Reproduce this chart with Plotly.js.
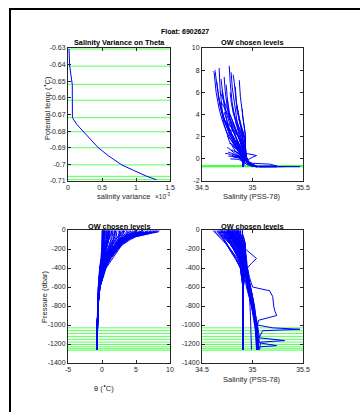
<!DOCTYPE html>
<html>
<head>
<meta charset="utf-8">
<script src="https://cdn.plot.ly/plotly-3.0.1.min.js"></script>
<style>
html,body{margin:0;padding:0;background:#fff;}
#chart{width:360px;height:412px;}
</style>
</head>
<body>
<div id="chart"></div>
<script>
// ---------------- DATA ----------------
const floatId = "6902627";

// chosen theta levels (green lines, top panels)
const thetaLevels = [-0.6306, -0.6409, -0.6519, -0.6614, -0.6719, -0.6804, -0.6900, -0.7003, -0.7072, -0.7092];
// chosen pressure levels (green lines, bottom panels)
const pressureChosen = [-1030, -1060, -1090, -1120, -1150, -1180, -1205, -1230, -1250, -1265];

// salinity variance on theta (x in units of 1e-3)
const varianceTheta = [-0.6306, -0.6409, -0.6519, -0.6614, -0.6719, -0.676, -0.6804, -0.685, -0.690, -0.695, -0.7003, -0.7035, -0.7072, -0.7092];
const varianceE3   = [0.015, 0.025, 0.063, 0.065, 0.065, 0.13, 0.225, 0.33, 0.446, 0.60, 0.79, 0.96, 1.16, 1.30];

// standard profile pressure levels (dbar, negative down)
const pressureLevels = [-5, -20, -40, -70, -100, -150, -200, -300, -400, -600, -800, -1000, -1150, -1260];

const thetaProfiles = [
 [8.4, 8.3, 6.8, 4.9, 3.9, 3.0, 2.4, 1.3, 0.5, -0.3, -0.58, -0.67, -0.7, -0.71],
 [8.2, 8.1, 6.2, 4.4, 3.5, 2.7, 2.1, 1.1, 0.4, -0.32, -0.6, -0.68, -0.7, -0.71],
 [7.9, 7.8, 6.0, 4.5, 3.5, 2.5, 1.8, 0.8, 0.2, -0.38, -0.6, -0.68, -0.7, -0.71],
 [7.6, 7.5, 6.9, 5.0, 4.2, 3.1, 2.3, 1.2, 0.4, -0.3, -0.58, -0.68, -0.7, -0.71],
 [7.1, 7.0, 5.6, 4.3, 3.4, 2.6, 2.0, 1.0, 0.3, -0.35, -0.6, -0.68, -0.71, -0.72],
 [6.9, 6.7, 5.3, 3.9, 3.1, 2.2, 1.6, 0.7, 0.1, -0.4, -0.61, -0.69, -0.71, -0.72],
 [6.2, 6.0, 4.8, 3.6, 2.8, 2.0, 1.4, 0.6, 0.05, -0.42, -0.62, -0.69, -0.71, -0.72],
 [5.5, 5.4, 4.6, 3.4, 2.7, 2.0, 1.5, 0.7, 0.1, -0.4, -0.62, -0.69, -0.71, -0.72],
 [4.8, 4.7, 4.2, 3.5, 3.0, 2.3, 1.7, 0.8, 0.2, -0.38, -0.61, -0.69, -0.71, -0.72],
 [4.2, 4.2, 3.9, 3.3, 2.8, 2.1, 1.5, 0.6, 0.0, -0.44, -0.62, -0.69, -0.71, -0.72],
 [3.6, 3.6, 3.4, 3.0, 2.6, 2.0, 1.4, 0.6, 0.0, -0.45, -0.63, -0.69, -0.71, -0.72],
 [3.0, 3.0, 2.9, 2.6, 2.3, 1.8, 1.3, 0.5, -0.05, -0.46, -0.63, -0.7, -0.71, -0.72],
 [2.5, 2.5, 2.5, 2.3, 2.1, 1.6, 1.2, 0.5, -0.05, -0.46, -0.63, -0.7, -0.71, -0.72],
 [2.0, 2.0, 2.0, 1.9, 1.7, 1.3, 0.9, 0.3, -0.15, -0.48, -0.64, -0.7, -0.71, -0.72],
 [1.6, 1.6, 1.6, 1.5, 1.4, 1.1, 0.8, 0.3, -0.1, -0.46, -0.63, -0.69, -0.71, -0.72],
 [1.2, 1.2, 1.2, 1.1, 1.0, 0.8, 0.6, 0.2, -0.15, -0.48, -0.64, -0.7, -0.71, -0.72],
 [0.9, 0.9, 0.9, 0.9, 0.8, 0.6, 0.4, 0.05, -0.25, -0.5, -0.65, -0.7, -0.71, -0.72],
 [0.6, 0.6, 0.6, 0.6, 0.55, 0.45, 0.3, 0.0, -0.25, -0.5, -0.65, -0.7, -0.71, -0.72],
 [0.4, 0.4, 0.4, 0.4, 0.35, 0.3, 0.2, 0.0, -0.25, -0.5, -0.64, -0.7, -0.71, -0.72],
 [0.2, 0.2, 0.2, 0.2, 0.2, 0.15, 0.1, -0.05, -0.3, -0.52, -0.65, -0.7, -0.71, -0.72],
 [0.1, 0.1, 0.1, 0.1, 0.1, 0.05, 0.0, -0.1, -0.3, -0.53, -0.65, -0.7, -0.71, -0.72],
 [0.5, 0.5, 0.5, 0.5, 0.45, 0.35, 0.25, 0.05, -0.2, -0.47, -0.63, -0.69, -0.71, -0.72],
 [0.3, 0.3, 0.3, 0.3, 0.25, 0.2, 0.15, -0.05, -0.3, -0.52, -0.65, -0.7, -0.71, -0.72],
 [2.2, 2.2, 2.2, 2.1, 1.9, 1.5, 1.1, 0.4, -0.1, -0.47, -0.64, -0.7, -0.71, -0.72],
 [6.5, 6.4, 5.2, 4.0, 3.3, 2.6, 2.0, 1.1, 0.35, -0.33, -0.6, -0.68, -0.71, -0.72],
 [7.4, 7.3, 6.1, 4.6, 3.7, 2.8, 2.1, 1.0, 0.3, -0.35, -0.6, -0.68, -0.71, -0.72],
 [8.0, 7.9, 6.5, 4.7, 3.8, 2.9, 2.2, 1.2, 0.4, -0.32, -0.6, -0.68, -0.7, -0.71],
 [7.2, 7.1, 6.3, 4.6, 3.9, 3.0, 2.5, 1.5, 0.6, -0.28, -0.58, -0.68, -0.7, -0.71],
 [6.0, 5.9, 5.1, 4.1, 3.5, 2.7, 2.1, 1.2, 0.5, -0.3, -0.59, -0.68, -0.7, -0.71],
 [5.2, 5.1, 4.5, 3.7, 3.1, 2.4, 1.8, 0.9, 0.2, -0.38, -0.61, -0.69, -0.71, -0.72],
 [7.8, 7.6, 6.4, 4.2, 3.2, 2.4, 1.8, 0.9, 0.25, -0.36, -0.6, -0.68, -0.7, -0.71],
 [3.4, 3.3, 3.1, 2.8, 2.5, 2.0, 1.5, 0.7, 0.1, -0.42, -0.62, -0.69, -0.71, -0.72],
 [2.8, 2.8, 2.7, 2.5, 2.4, 2.0, 1.6, 0.8, 0.2, -0.4, -0.62, -0.69, -0.71, -0.72],
 [1.8, 1.8, 1.8, 1.7, 1.6, 1.3, 1.0, 0.4, -0.1, -0.46, -0.63, -0.7, -0.71, -0.72],
 [4.5, 4.4, 4.0, 3.4, 2.9, 2.2, 1.6, 0.7, 0.1, -0.42, -0.62, -0.69, -0.71, -0.72],
 [1.0, 1.0, 1.0, 1.0, 0.9, 0.7, 0.5, 0.1, -0.2, -0.48, -0.64, -0.7, -0.71, -0.72],
 [0.7, 0.7, 0.7, 0.7, 0.65, 0.5, 0.35, 0.05, -0.2, -0.48, -0.64, -0.7, -0.71, -0.72],
 [0.0, 0.0, 0.0, 0.0, 0.0, 0.0, -0.05, -0.15, -0.35, -0.55, -0.66, -0.7, -0.71, -0.72],
 [3.8, 3.8, 3.6, 3.2, 2.9, 2.4, 2.0, 1.2, 0.4, -0.32, -0.6, -0.68, -0.7, -0.71],
 [2.6, 2.6, 2.6, 2.5, 2.4, 2.1, 1.7, 0.9, 0.2, -0.4, -0.62, -0.69, -0.71, -0.72],
 [1.4, 1.4, 1.4, 1.4, 1.3, 1.1, 0.9, 0.4, -0.05, -0.45, -0.63, -0.69, -0.71, -0.72],
 [0.8, 0.8, 0.8, 0.8, 0.75, 0.6, 0.45, 0.1, -0.2, -0.48, -0.64, -0.7, -0.71, -0.72],
 [0.25, 0.25, 0.25, 0.25, 0.25, 0.2, 0.15, 0.0, -0.25, -0.5, -0.64, -0.7, -0.71, -0.72],
 [0.15, 0.15, 0.15, 0.15, 0.15, 0.1, 0.05, -0.05, -0.3, -0.52, -0.65, -0.7, -0.71, -0.72],
 [5.8, 5.7, 4.9, 3.8, 3.2, 2.5, 1.9, 1.0, 0.3, -0.35, -0.6, -0.68, -0.71, -0.72],
 [6.7, 6.6, 5.5, 4.2, 3.5, 2.7, 2.0, 1.0, 0.3, -0.35, -0.6, -0.68, -0.71, -0.72],
 [3.2, 3.2, 3.1, 2.9, 2.7, 2.3, 1.9, 1.1, 0.35, -0.35, -0.6, -0.68, -0.71, -0.72],
 [1.9, 1.9, 1.9, 1.8, 1.7, 1.5, 1.2, 0.6, 0.05, -0.44, -0.62, -0.69, -0.71, -0.72],
 [0.35, 0.35, 0.35, 0.35, 0.3, 0.25, 0.2, 0.05, -0.2, -0.47, -0.63, -0.69, -0.71, -0.72],
 [4.0, 4.0, 3.7, 3.2, 2.8, 2.2, 1.7, 0.9, 0.25, -0.36, -0.61, -0.69, -0.71, -0.72],
 [1.1, 1.1, 1.1, 1.05, 1.0, 0.85, 0.65, 0.25, -0.1, -0.46, -0.63, -0.69, -0.71, -0.72],
 [5.0, 4.9, 4.4, 3.7, 3.3, 2.7, 2.2, 1.3, 0.5, -0.3, -0.59, -0.68, -0.7, -0.71]
];

const salinityProfiles = [
 [34.77, 34.77, 34.78, 34.80, 34.82, 34.84, 34.86, 34.89, 34.90, 34.905, 34.91, 34.91, 34.91, 34.91],
 [34.67, 34.67, 34.68, 34.70, 34.72, 34.75, 34.78, 34.84, 34.88, 34.905, 34.91, 34.91, 34.91, 34.91],
 [34.61, 34.62, 34.64, 34.67, 34.70, 34.74, 34.78, 34.85, 34.89, 34.907, 34.91, 34.91, 34.91, 34.91],
 [34.81, 34.81, 34.82, 34.84, 34.86, 34.88, 34.90, 34.92, 34.93, 34.96, 35.00, 35.03, 35.05, 35.05],
 [34.87, 34.87, 34.88, 34.90, 34.91, 34.92, 34.93, 34.93, 34.935, 34.96, 35.00, 35.03, 35.04, 35.04],
 [34.65, 34.65, 34.67, 34.70, 34.72, 34.75, 34.77, 34.83, 34.88, 34.905, 34.91, 34.91, 34.91, 34.91],
 [34.70, 34.70, 34.72, 34.74, 34.76, 34.79, 34.82, 34.87, 34.90, 34.91, 34.91, 34.91, 34.91, 34.91],
 [34.75, 34.75, 34.76, 34.78, 34.80, 34.83, 34.86, 34.90, 34.92, 34.95, 35.00, 35.03, 35.05, 35.05],
 [34.84, 34.84, 34.85, 34.87, 34.88, 34.90, 34.92, 34.93, 34.92, 34.91, 34.91, 34.91, 34.91, 34.91],
 [34.72, 34.72, 34.73, 34.75, 34.77, 34.80, 34.83, 34.88, 34.90, 34.91, 34.91, 34.91, 34.91, 34.91],
 [34.86, 34.86, 34.87, 34.88, 34.90, 34.92, 34.93, 34.93, 34.94, 34.97, 35.01, 35.04, 35.05, 35.05],
 [34.78, 34.78, 34.79, 34.80, 34.82, 34.84, 34.86, 34.89, 34.91, 34.91, 34.91, 34.91, 34.91, 34.91],
 [34.82, 34.82, 34.83, 34.84, 34.86, 34.88, 34.90, 34.92, 34.91, 34.91, 34.91, 34.91, 34.91, 34.91],
 [34.75, 34.75, 34.76, 34.77, 34.79, 34.82, 34.85, 34.89, 34.91, 34.91, 34.91, 34.91, 34.91, 34.91],
 [34.88, 34.88, 34.88, 34.89, 34.90, 34.91, 34.92, 34.94, 34.95, 34.98, 35.02, 35.04, 35.05, 35.05],
 [34.80, 34.80, 34.80, 34.81, 34.83, 34.85, 34.87, 34.90, 34.91, 34.91, 34.91, 34.91, 34.91, 34.91],
 [34.85, 34.85, 34.85, 34.86, 34.87, 34.88, 34.89, 34.90, 34.91, 34.91, 34.91, 34.91, 34.91, 34.91],
 [34.76, 34.76, 34.76, 34.77, 34.78, 34.81, 34.84, 34.89, 34.91, 34.91, 34.91, 34.91, 34.91, 34.91],
 [34.80, 34.80, 34.80, 34.81, 34.82, 34.85, 34.87, 34.90, 34.91, 34.94, 34.99, 35.02, 35.04, 35.04],
 [34.84, 34.84, 34.84, 34.85, 34.86, 34.88, 34.89, 34.90, 34.91, 34.91, 34.91, 34.91, 34.91, 34.91],
 [34.88, 34.88, 34.88, 34.88, 34.89, 34.90, 34.90, 34.91, 34.91, 34.91, 34.91, 34.91, 34.91, 34.91],
 [34.73, 34.73, 34.73, 34.74, 34.76, 34.79, 34.82, 34.87, 34.90, 34.91, 34.91, 34.91, 34.91, 34.91],
 [34.90, 34.90, 34.90, 34.90, 34.90, 34.91, 34.91, 34.92, 34.93, 34.96, 35.00, 35.03, 35.04, 35.04],
 [34.90, 34.90, 34.90, 34.91, 34.92, 34.93, 34.93, 34.94, 34.93, 34.91, 34.91, 34.91, 34.91, 34.91],
 [34.83, 34.83, 34.84, 34.86, 34.88, 34.90, 34.92, 34.93, 34.92, 34.91, 34.91, 34.91, 34.91, 34.91],
 [34.72, 34.72, 34.73, 34.75, 34.77, 34.80, 34.83, 34.87, 34.90, 34.91, 34.91, 34.91, 34.91, 34.91],
 [34.63, 34.63, 34.65, 34.68, 34.71, 34.74, 34.77, 34.83, 34.88, 34.905, 34.91, 34.91, 34.91, 34.91],
 [34.69, 34.69, 34.70, 34.73, 34.75, 34.78, 34.81, 34.86, 34.89, 34.91, 34.91, 34.91, 34.91, 34.91],
 [34.78, 34.78, 34.79, 34.81, 34.83, 34.86, 34.88, 34.91, 34.92, 34.95, 34.99, 35.03, 35.04, 35.04],
 [34.68, 34.68, 34.69, 34.72, 34.74, 34.78, 34.81, 34.86, 34.89, 34.91, 34.91, 34.91, 34.91, 34.91],
 [34.79, 34.79, 34.80, 34.83, 34.85, 34.87, 34.89, 34.91, 34.915, 34.91, 34.91, 34.91, 34.91, 34.91],
 [34.74, 34.74, 34.75, 34.76, 34.78, 34.81, 34.84, 34.88, 34.90, 34.91, 34.91, 34.91, 34.91, 34.91],
 [34.85, 34.85, 34.86, 34.87, 34.88, 34.90, 34.91, 34.93, 34.93, 34.96, 35.00, 35.03, 35.05, 35.05],
 [34.80, 34.80, 34.81, 34.82, 34.84, 34.86, 34.88, 34.90, 34.91, 34.91, 34.91, 34.91, 34.91, 34.91],
 [34.90, 34.90, 34.90, 34.91, 34.92, 34.93, 34.93, 34.93, 34.92, 34.91, 34.91, 34.91, 34.91, 34.91],
 [34.75, 34.75, 34.75, 34.76, 34.77, 34.80, 34.83, 34.88, 34.90, 34.91, 34.91, 34.91, 34.91, 34.91],
 [34.82, 34.82, 34.82, 34.83, 34.84, 34.86, 34.88, 34.90, 34.91, 34.91, 34.91, 34.91, 34.91, 34.91],
 [34.78, 34.78, 34.78, 34.79, 34.80, 34.83, 34.86, 34.89, 34.91, 34.91, 34.91, 34.91, 34.91, 34.91],
 [34.76, 34.76, 34.77, 34.79, 34.81, 34.84, 34.87, 34.90, 34.91, 34.91, 34.91, 34.91, 34.91, 34.91],
 [34.77, 34.77, 34.78, 34.80, 34.82, 34.85, 34.88, 34.91, 34.92, 34.91, 34.91, 34.91, 34.91, 34.91],
 [34.77, 34.77, 34.77, 34.78, 34.80, 34.83, 34.86, 34.89, 34.91, 34.91, 34.91, 34.91, 34.91, 34.91],
 [34.79, 34.79, 34.79, 34.80, 34.81, 34.84, 34.87, 34.90, 34.91, 34.91, 34.91, 34.91, 34.91, 34.91],
 [34.76, 34.76, 34.76, 34.77, 34.79, 34.83, 34.86, 34.89, 34.91, 34.91, 34.91, 34.91, 34.91, 34.91],
 [34.81, 34.81, 34.81, 34.82, 34.83, 34.86, 34.88, 34.90, 34.91, 34.91, 34.91, 34.91, 34.91, 34.91],
 [34.66, 34.66, 34.68, 34.71, 34.74, 34.78, 34.82, 34.87, 34.90, 34.91, 34.91, 34.91, 34.91, 34.91],
 [34.74, 34.74, 34.75, 34.77, 34.80, 34.83, 34.86, 34.90, 34.91, 34.91, 34.91, 34.91, 34.91, 34.91],
 [34.83, 34.83, 34.84, 34.86, 34.88, 34.90, 34.92, 34.93, 34.92, 34.91, 34.91, 34.91, 34.91, 34.91],
 [34.86, 34.86, 34.86, 34.87, 34.88, 34.89, 34.90, 34.92, 34.93, 34.95, 34.99, 35.03, 35.04, 35.04],
 [34.86, 34.86, 34.86, 34.87, 34.88, 34.89, 34.90, 34.91, 34.91, 34.91, 34.91, 34.91, 34.91, 34.91],
 [34.70, 34.70, 34.71, 34.73, 34.75, 34.79, 34.83, 34.88, 34.90, 34.91, 34.91, 34.91, 34.91, 34.91],
 [34.84, 34.84, 34.84, 34.85, 34.86, 34.88, 34.89, 34.90, 34.91, 34.91, 34.91, 34.91, 34.91, 34.91],
 [34.80, 34.80, 34.81, 34.83, 34.85, 34.87, 34.89, 34.91, 34.92, 34.91, 34.91, 34.91, 34.91, 34.91]
];

// profiles with their own pressure sampling (salinity excursions at depth)
const outlierPressure = [
 [-5, -50, -100, -200, -250, -300, -350, -400, -500, -600, -640, -700, -800, -850, -900, -950, -1000, -1100, -1260],
 [-5, -100, -300, -500, -700, -900, -1000, -1030, -1045, -1060, -1150, -1260],
 [-5, -100, -300, -500, -700, -900, -1000, -1135, -1164, -1180, -1260],
 [-5, -100, -300, -500, -700, -900, -1000, -1100, -1188, -1217, -1230, -1260],
 [-5, -100, -300, -500, -700, -900, -1000, -1100, -1260]
];
const outlierSalinity = [
 [34.85, 34.87, 34.90, 34.93, 34.99, 35.04, 34.99, 34.95, 34.97, 35.00, 35.17, 35.20, 35.21, 35.22, 35.24, 35.06, 35.05, 35.05, 35.05],
 [34.70, 34.84, 34.92, 34.96, 35.00, 35.03, 35.05, 35.20, 35.47, 35.10, 35.06, 35.06],
 [34.76, 34.87, 34.93, 34.96, 35.00, 35.03, 35.05, 35.07, 35.32, 35.08, 35.07],
 [34.68, 34.83, 34.92, 34.95, 34.99, 35.02, 35.04, 35.05, 35.07, 35.24, 35.07, 35.06],
 [34.82, 34.88, 34.93, 34.95, 34.97, 34.98, 34.98, 34.985, 34.99]
];
const outlierTheta = [
 [1.5, 1.3, 1.0, 0.5, 0.4, 0.3, 0.1, -0.1, -0.3, -0.4, -0.48, -0.52, -0.58, -0.6, -0.64, -0.66, -0.68, -0.7, -0.71],
 [5.0, 2.5, 0.4, -0.25, -0.5, -0.64, -0.68, -0.69, -0.7, -0.7, -0.71, -0.72],
 [3.2, 2.0, 0.3, -0.3, -0.5, -0.64, -0.68, -0.7, -0.7, -0.71, -0.72],
 [6.0, 2.8, 0.5, -0.2, -0.48, -0.62, -0.67, -0.69, -0.7, -0.71, -0.71, -0.72],
 [1.0, 0.8, 0.1, -0.3, -0.5, -0.63, -0.68, -0.7, -0.71]
];

// axis ranges and ticks
const varRange = [0, 1.5];
const thetaLevRange = [-0.71, -0.63];
const salRange = [34.5, 35.5];
const tsThetaRange = [-2, 10];
const thRange = [-5, 10];
const presRange = [-1400, 0];

const varTickVals = [0, 0.5, 1, 1.5];
const varTickText = ['0', '0.5', '1', '1.5'];
const thetaLevTickVals = [-0.71, -0.70, -0.69, -0.68, -0.67, -0.66, -0.65, -0.64, -0.63];
const thetaLevTickText = ['-0.71', '-0.7', '-0.69', '-0.68', '-0.67', '-0.66', '-0.65', '-0.64', '-0.63'];
const salTickVals = [34.5, 35, 35.5];
const salTickText = ['34.5', '35', '35.5'];
const tsThetaTickVals = [-2, 0, 2, 4, 6, 8, 10];
const tsThetaTickText = ['-2', '0', '2', '4', '6', '8', '10'];
const thTickVals = [-5, 0, 5, 10];
const thTickText = ['-5', '0', '5', '10'];
const presTickVals = [-1400, -1200, -1000, -800, -600, -400, -200, 0];
const presTickText = ['-1400', '-1200', '-1000', '-800', '-600', '-400', '-200', '0'];

// ---------------- STYLE ----------------
const BLUE = '#0000ff';
const GREEN = '#44ff44';
const FONT = 'Liberation Sans, Arial, Helvetica, sans-serif';
const AX = '#262626';
const W = 360, H = 412;
const px = x => x / W;
const py = y => 1 - y / H;

const traces = [];

function hlines(levels, xr, xa, ya) {
  const xs = [], ys = [];
  levels.forEach(v => { xs.push(xr[0], xr[1], null); ys.push(v, v, null); });
  traces.push({type: 'scatter', mode: 'lines', x: xs, y: ys, xaxis: xa, yaxis: ya,
    line: {color: GREEN, width: 0.9}, hoverinfo: 'skip'});
}
function prof(x, y, xa, ya) {
  traces.push({type: 'scatter', mode: 'lines', x: x, y: y, xaxis: xa, yaxis: ya,
    line: {color: BLUE, width: 1}, hoverinfo: 'skip'});
}

// green chosen levels
hlines(thetaLevels, varRange, 'x', 'y');
hlines(thetaLevels, salRange, 'x2', 'y2');
hlines(pressureChosen, thRange, 'x3', 'y3');
hlines(pressureChosen, salRange, 'x4', 'y4');

// variance
prof(varianceE3, varianceTheta, 'x', 'y');

// profiles
thetaProfiles.forEach((th, i) => {
  const sa = salinityProfiles[i];
  prof(sa, th, 'x2', 'y2');
  prof(th, pressureLevels, 'x3', 'y3');
  prof(sa, pressureLevels, 'x4', 'y4');
});
outlierPressure.forEach((p, i) => {
  prof(outlierSalinity[i], outlierTheta[i], 'x2', 'y2');
  prof(outlierTheta[i], p, 'x3', 'y3');
  prof(outlierSalinity[i], p, 'x4', 'y4');
});

function axis(domain, range, tv, tt, anchor) {
  return {domain: domain, range: range, tickmode: 'array', tickvals: tv, ticktext: tt,
    ticks: 'inside', ticklen: 3, tickwidth: 1, tickcolor: AX,
    showline: true, linecolor: AX, linewidth: 1, mirror: 'ticks',
    showgrid: false, zeroline: false, anchor: anchor,
    tickfont: {family: FONT, size: 7, color: AX}, fixedrange: true};
}

const xL = [px(68), px(170)], xR = [px(202), px(303)];
const yT = [py(181), py(48)], yB = [py(363), py(230)];

const ann = (text, x, y, size, bold, extra) => Object.assign({
  text: bold ? '<b>' + text + '</b>' : text, x: px(x), y: py(y), xref: 'paper', yref: 'paper',
  xanchor: 'center', yanchor: 'middle', showarrow: false,
  font: {family: FONT, size: size, color: bold ? '#000' : AX}}, extra || {});

const layout = {
  width: W, height: H, autosize: false,
  margin: {l: 0, r: 0, t: 0, b: 0, pad: 0},
  paper_bgcolor: '#fff', plot_bgcolor: '#fff', showlegend: false,
  xaxis: axis(xL, varRange, varTickVals, varTickText, 'y'),
  yaxis: axis(yT, thetaLevRange, thetaLevTickVals, thetaLevTickText, 'x'),
  xaxis2: axis(xR, salRange, salTickVals, salTickText, 'y2'),
  yaxis2: axis(yT, tsThetaRange, tsThetaTickVals, tsThetaTickText, 'x2'),
  xaxis3: axis(xL, thRange, thTickVals, thTickText, 'y3'),
  yaxis3: axis(yB, presRange, presTickVals, presTickText, 'x3'),
  xaxis4: axis(xR, salRange, salTickVals, salTickText, 'y4'),
  yaxis4: axis(yB, presRange, presTickVals, presTickText, 'x4'),
  shapes: [
    {type: 'line', xref: 'paper', yref: 'paper', x0: px(9), x1: 1, y0: py(9), y1: py(9), line: {color: '#000', width: 2}},
    {type: 'line', xref: 'paper', yref: 'paper', x0: px(10), x1: px(10), y0: py(8), y1: 0, line: {color: '#000', width: 2}}
  ],
  annotations: [
    ann('Float: ' + floatId, 185.5, 32, 7, true),
    ann('Salinity Variance on Theta', 119, 43, 7.3, true),
    ann('OW chosen levels', 252.5, 43, 7.3, true),
    ann('OW chosen levels', 119, 226, 7.3, true),
    ann('OW chosen levels', 252.5, 226, 7.3, true),
    ann('Potential temp (<sup>∘</sup>C)', 47, 108, 7.5, false, {textangle: -90}),
    ann('salinity variance', 123, 196, 7.5, false),
    ann('×10<sup>-3</sup>', 163, 196, 6.5, false),
    ann('Salinity (PSS-78)', 252.5, 196, 7.5, false),
    ann('Pressure (dbar)', 44, 297, 7.5, false, {textangle: -90}),
    ann('θ (<sup>∘</sup>C)', 104, 388, 7.5, false),
    ann('Salinity (PSS-78)', 252.5, 379, 7.5, false)
  ]
};

Plotly.newPlot('chart', traces, layout, {staticPlot: true, displayModeBar: false});
</script>
</body>
</html>
